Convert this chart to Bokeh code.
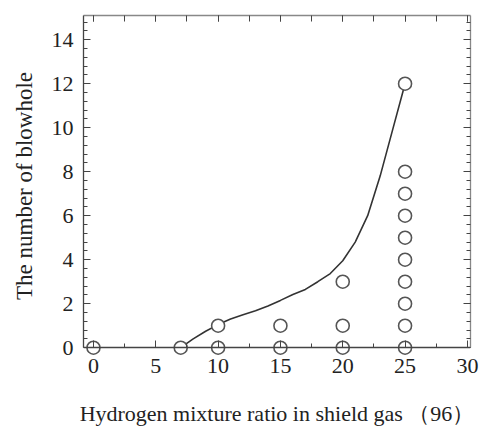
from bokeh.plotting import figure
from bokeh.models import Range1d, LinearAxis, SingleIntervalTicker, CustomJSTickFormatter
from bokeh.embed import file_html
from bokeh.resources import INLINE

# Measured blowhole counts
pts_x = [0, 7, 10, 10, 15, 15, 20, 20, 20, 25, 25, 25, 25, 25, 25, 25, 25, 25, 25]
pts_y = [0, 0, 0, 1, 0, 1, 0, 1, 3, 0, 1, 2, 3, 4, 5, 6, 7, 8, 12]

# Trend curve
curve_x = [7, 8, 9, 10, 11, 12, 13, 14, 15, 16, 17, 18, 19, 20, 21, 22, 23, 24, 25]
curve_y = [0, 0.4, 0.75, 1.05, 1.3, 1.5, 1.68, 1.9, 2.15, 2.42, 2.65, 3.0, 3.37, 3.95, 4.8, 6.0, 7.8, 9.9, 12]

x_label = "Hydrogen mixture ratio in shield gas （96）"
y_label = "The number of blowhole"

FONT = "Liberation Serif"
AX = "#444444"
TXT = "#222222"

p = figure(width=486, height=439, output_backend="svg", toolbar_location=None,
           x_range=Range1d(-0.8, 30.25), y_range=Range1d(-0.4, 15.1),
           x_axis_location=None, y_axis_location=None,
           min_border_left=83, min_border_right=16, min_border_top=15, min_border_bottom=83)
p.outline_line_color = None
p.xgrid.visible = False
p.ygrid.visible = False
p.background_fill_color = "white"

blank = CustomJSTickFormatter(code="return ''")

def style(ax):
    ax.axis_line_color = AX
    ax.axis_line_width = 1.3
    ax.major_tick_line_color = AX
    ax.minor_tick_line_color = AX
    ax.major_tick_in = 7
    ax.major_tick_out = 0
    ax.minor_tick_in = 4
    ax.minor_tick_out = 0
    ax.major_label_text_font = FONT
    ax.major_label_text_color = TXT
    ax.axis_label_text_font = FONT
    ax.axis_label_text_font_style = "normal"
    ax.axis_label_text_color = TXT

def tick_only(ax):
    style(ax)
    ax.formatter = blank
    ax.major_label_standoff = 0

# bottom tick labels and axis title (no line)
xb = LinearAxis(ticker=SingleIntervalTicker(interval=5, num_minor_ticks=2))
style(xb)
xb.axis_line_color = None
xb.major_tick_line_color = None
xb.minor_tick_line_color = None
xb.major_label_text_font_size = "22px"
xb.major_label_standoff = 2
xb.axis_label = x_label
xb.axis_label_text_font_size = "22px"
xb.axis_label_standoff = 25
p.add_layout(xb, "below")

# bottom axis line with ticks at y = 0
xb0 = LinearAxis(ticker=SingleIntervalTicker(interval=5, num_minor_ticks=2), fixed_location=0)
tick_only(xb0)
p.add_layout(xb0, "below")

xt = LinearAxis(ticker=SingleIntervalTicker(interval=5, num_minor_ticks=2))
tick_only(xt)
xt.major_tick_in = 6
xt.minor_tick_in = 6
xt.axis_line_color = "#888888"
p.add_layout(xt, "above")

yl = LinearAxis(ticker=SingleIntervalTicker(interval=2, num_minor_ticks=5), bounds=(0, 15.1))
style(yl)
yl.major_label_text_font_size = "22px"
yl.major_label_standoff = 10
yl.axis_label = y_label
yl.axis_label_text_font_size = "23px"
yl.axis_label_standoff = 12
p.add_layout(yl, "left")

yr = LinearAxis(ticker=SingleIntervalTicker(interval=2, num_minor_ticks=5), bounds=(0, 15.1))
tick_only(yr)
yr.axis_line_color = "#888888"
p.add_layout(yr, "right")

p.line(curve_x, curve_y, line_color="#333333", line_width=1.6)
p.scatter(pts_x, pts_y, marker="circle", size=13, fill_color="white",
          line_color="#555555", line_width=1.6)

open("out.html", "w").write(file_html(p, INLINE))
